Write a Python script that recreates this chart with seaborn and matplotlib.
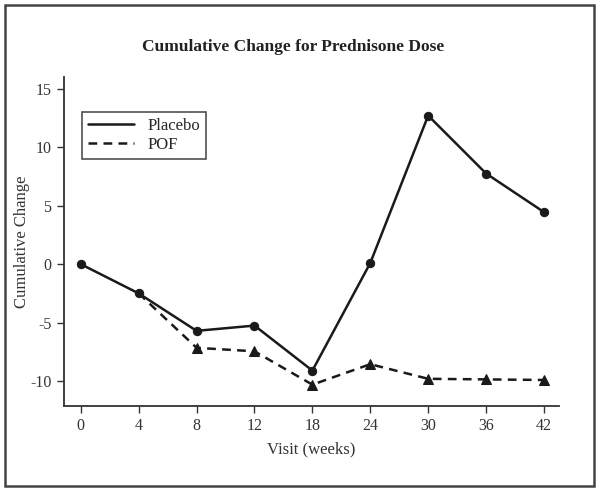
import pandas as pd
import matplotlib
matplotlib.use("Agg")
import matplotlib.pyplot as plt
from matplotlib.patches import Rectangle
import seaborn as sns

# visit weeks (plotted as equally spaced categories)
weeks = [0, 4, 8, 12, 18, 24, 30, 36, 42]
placebo = [0.0, -2.5, -5.7, -5.25, -9.1, 0.1, 12.7, 7.75, 4.45]
# POF line starts at week 4
pof = [-2.5, -7.15, -7.45, -10.3, -8.55, -9.8, -9.85, -9.9]

df_placebo = pd.DataFrame({"pos": range(len(weeks)), "value": placebo})
df_pof = pd.DataFrame({"pos": range(1, len(weeks)), "value": pof})

sns.set_style("ticks")
plt.rcParams["font.family"] = ["Liberation Serif", "DejaVu Serif"]

fig = plt.figure(figsize=(6, 4.91), dpi=100)
ax = fig.add_axes([0.1067, 0.1737, 0.825, 0.6695])

col = "#1a1a1a"
sns.lineplot(data=df_pof, x="pos", y="value", ax=ax, color=col,
             linestyle=(0, (3.5, 2.5)), linewidth=1.8, marker="^", markersize=7,
             markeredgecolor=col, markevery=list(range(1, len(pof))),
             label="POF", zorder=2)
sns.lineplot(data=df_placebo, x="pos", y="value", ax=ax, color=col,
             linewidth=1.8, marker="o", markersize=6, markeredgecolor=col,
             label="Placebo", zorder=3)

ax.set_xlim(-0.29, 8.26)
ax.set_ylim(-12.1, 16)
ax.set_xticks(range(len(weeks)))
ax.set_xticklabels([str(w) for w in weeks])
ax.set_yticks([-10, -5, 0, 5, 10, 15])
ax.set_yticklabels(["-10", "-5", "0", "5", "10", "15"])
ax.tick_params(axis="both", labelsize=11.5, color="#333333", length=5, width=1, pad=4,
               labelcolor="#333333")
sns.despine(ax=ax)
for s in ["left", "bottom"]:
    ax.spines[s].set_linewidth(1.3)
    ax.spines[s].set_color("#333333")

ax.set_xlabel("Visit (weeks)", fontsize=12, color="#333333", labelpad=5)
ax.set_ylabel("Cumulative Change", fontsize=12, color="#333333")
ax.yaxis.set_label_coords(-0.068, 0.5)

handles, labels = ax.get_legend_handles_labels()
order = [labels.index("Placebo"), labels.index("POF")]
leg = ax.legend([handles[i] for i in order], [labels[i] for i in order],
                loc="upper left", bbox_to_anchor=(0.036, 0.894), borderaxespad=0,
                fontsize=12, frameon=True, fancybox=False, edgecolor="#222222",
                handlelength=2.8, handletextpad=0.8, borderpad=0.35,
                labelspacing=0.2)
leg.get_frame().set_linewidth(1.2)
for h in leg.legend_handles:
    h.set_marker("")

fig.text(0.488, 0.904, "Cumulative Change for Prednisone Dose", ha="center",
         va="center", fontsize=12.5, fontweight="bold", color="#222222")

fig.patches.append(Rectangle((5 / 600, 5 / 491), 589 / 600, 481 / 491,
                             transform=fig.transFigure, fill=False,
                             edgecolor="#444444", linewidth=1.8))

fig.savefig("out.png", dpi=100)
